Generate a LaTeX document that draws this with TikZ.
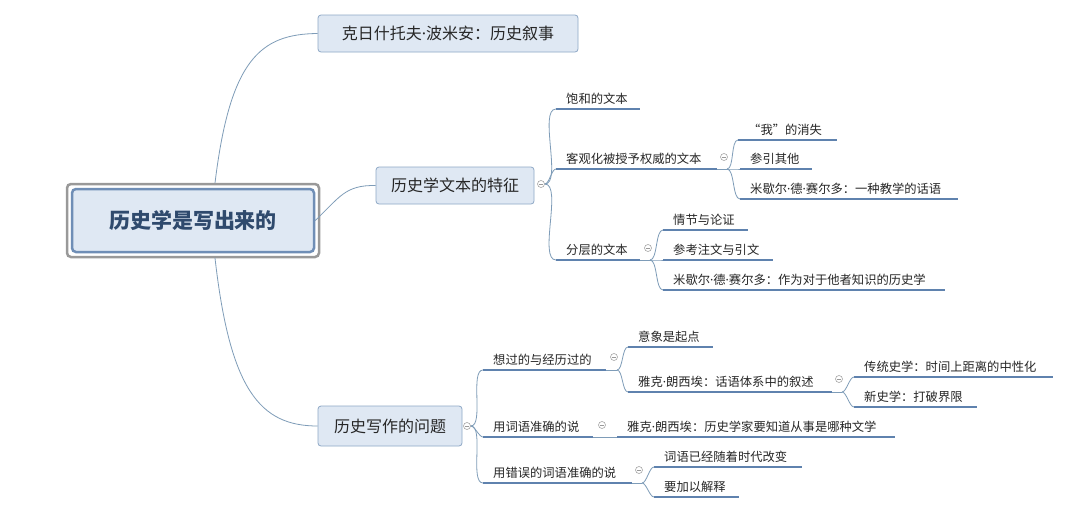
\documentclass[tikz,border=0pt]{standalone}
\usepackage{fontspec}
\setmainfont{Noto Sans CJK SC}
\newfontfamily\latinf{Noto Sans}
\newcommand\dt{{\latinf ·}}
\begin{document}
\begin{tikzpicture}[x=1pt,y=-1pt,
  conn/.style={draw=linec,line width=0.8pt},
  uline/.style={draw=ulc,line width=2pt},
  lbl/.style={anchor=base west,inner sep=0pt,font=\fontsize{12.3}{14}\selectfont,text=black!85},
  circ/.style={circle,draw=gray!70,fill=white,minimum size=7pt,inner sep=0pt,line width=0.6pt,
    path picture={\draw[gray!80,line width=0.6pt] ([xshift=-1.8pt]path picture bounding box.center)--([xshift=1.8pt]path picture bounding box.center);}},
  bbox/.style={draw=boxb,fill=boxf,rounded corners=3pt,line width=0.8pt,inner xsep=10pt,minimum height=37pt,font=\fontsize{16}{18}\selectfont,text=black!85}]
\definecolor{linec}{HTML}{7E9CB8}
\definecolor{ulc}{HTML}{5F82AE}
\definecolor{boxb}{HTML}{8EA8C6}
\definecolor{boxf}{HTML}{DFE8F3}
\definecolor{roott}{HTML}{2F4A6D}
\useasboundingbox (0,0) rectangle (1080,509);
\fill[white] (0,0) rectangle (1080,509);
\newcommand\leaf[5]{%
  \coordinate (#1-l) at (#2,#4); \coordinate (#1-r) at (#3,#4);
  \draw[uline] (#1-l) -- (#1-r);
  \node[lbl] (#1) at (#2+10,#4-6) {#5};}
% root
\node[draw=gray!80,line width=2.5pt,rounded corners=4pt,minimum width=252pt,minimum height=73pt,inner sep=0pt] (rootouter) at (193,220.5) {};
\node[draw=ulc!90,fill=boxf,line width=2.5pt,rounded corners=4pt,minimum width=242pt,minimum height=63pt,font=\bfseries\fontsize{21}{24}\selectfont,text=roott] (root) at (193,220.5) {历史学是写出来的};
% branches
\node[bbox,minimum width=260pt] (b1) at (448,33.5) {克日什托夫\dt 波米安：历史叙事};
\node[bbox,minimum width=158pt] (b2) at (455,185.5) {历史学文本的特征};
\node[bbox,minimum width=144pt,minimum height=40pt] (b3) at (390,426) {历史写作的问题};
\draw[conn] (215,183) .. controls (230,60) and (260,34) .. (b1.west);
\draw[conn] (root.east) .. controls (340,197) and (345,185) .. (b2.west);
\draw[conn] (215,258) .. controls (230,390) and (260,426) .. (b3.west);
\node[circ] (c2) at (541,184) {};
\node[circ] (c3) at (467,426) {};
% branch 2 leaves
\leaf{a1}{556}{640}{109}{饱和的文本}
\leaf{a2}{556}{717}{169}{客观化被授予权威的文本}
\leaf{a3}{556}{640}{260}{分层的文本}
\foreach \t in {a1,a2,a3} \draw[conn] (c2.east) to[out=0,in=180,looseness=0.6] (\t-l);
\node[circ] (ca2) at (724,157) {};
\coordinate (pa2) at (727,169);
\draw[conn] (a2-r) -- (pa2);
\leaf{a21}{738}{837}{140}{“我”的消失}
\leaf{a22}{740}{812}{169}{参引其他}
\leaf{a23}{740}{958}{199}{米歇尔\dt 德\dt 赛尔多：一种教学的话语}
\foreach \t in {a21,a22,a23} \draw[conn] (pa2) to[out=0,in=180,looseness=0.6] (\t-l);
\node[circ] (ca3) at (648,248) {};
\coordinate (pa3) at (650,260);
\draw[conn] (a3-r) -- (pa3);
\leaf{a31}{663}{748}{230}{情节与论证}
\leaf{a32}{663}{773}{260}{参考注文与引文}
\leaf{a33}{663}{945}{290}{米歇尔\dt 德\dt 赛尔多：作为对于他者知识的历史学}
\foreach \t in {a31,a32,a33} \draw[conn] (pa3) to[out=0,in=180,looseness=0.6] (\t-l);
% branch 3 leaves
\leaf{d1}{483}{606}{370}{想过的与经历过的}
\leaf{d2}{483}{593}{437}{用词语准确的说}
\leaf{d3}{483}{632}{483}{用错误的词语准确的说}
\foreach \t in {d1,d2,d3} \draw[conn] (c3.east) to[out=0,in=180,looseness=0.6] (\t-l);
\node[circ] (cd1) at (614,357) {};
\coordinate (pd1) at (617,370);
\draw[conn] (d1-r) -- (pd1);
\leaf{d11}{628}{713}{347}{意象是起点}
\leaf{d12}{628}{832}{392}{雅克\dt 朗西埃：话语体系中的叙述}
\foreach \t in {d11,d12} \draw[conn] (pd1) to[out=0,in=180,looseness=0.6] (\t-l);
\node[circ] (cd12) at (839,379) {};
\coordinate (pd12) at (842,392);
\draw[conn] (d12-r) -- (pd12);
\leaf{d121}{854}{1053}{377}{传统史学：时间上距离的中性化}
\leaf{d122}{854}{977}{407}{新史学：打破界限}
\foreach \t in {d121,d122} \draw[conn] (pd12) to[out=0,in=180,looseness=0.6] (\t-l);
\node[circ] (cd2) at (602,425) {};
\leaf{d21}{617}{895}{437}{雅克\dt 朗西埃：历史学家要知道从事是哪种文学}
\draw[conn] (d2-r) -- (d21-l);
\node[circ] (cd3) at (639,470) {};
\coordinate (pd3) at (642,483);
\draw[conn] (d3-r) -- (pd3);
\leaf{d31}{654}{802}{467}{词语已经随着时代改变}
\leaf{d32}{654}{739}{497}{要加以解释}
\foreach \t in {d31,d32} \draw[conn] (pd3) to[out=0,in=180,looseness=0.6] (\t-l);
\end{tikzpicture}
\end{document}
